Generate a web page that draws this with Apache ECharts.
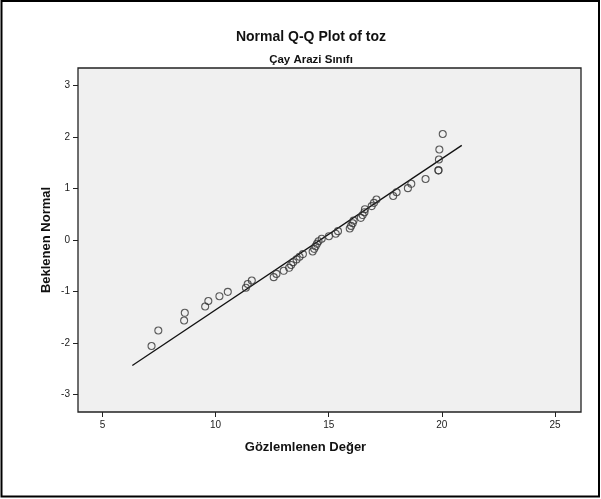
<!DOCTYPE html>
<html>
<head>
<meta charset="utf-8">
<title>Normal Q-Q Plot of toz</title>
<script src="https://cdn.jsdelivr.net/npm/echarts@6/dist/echarts.min.js"></script>
<style>
  html, body { margin: 0; padding: 0; background: #fff; }
  #chart { width: 601px; height: 499px; }
</style>
</head>
<body>
<div id="chart"></div>
<script>
// Observed values (toz) and their expected normal scores
const observed = [
  7.17, 7.47, 8.61, 8.64, 9.54, 9.68, 10.17, 10.54, 11.34, 11.42,
  11.60, 12.57, 12.69, 13.01, 13.25, 13.34, 13.43, 13.58, 13.71, 13.86,
  14.29, 14.36, 14.42, 14.48, 14.55, 14.69, 15.01, 15.31, 15.41, 15.93,
  15.99, 16.06, 16.10, 16.42, 16.50, 16.58, 16.60, 16.90, 17.00, 17.11,
  17.85, 18.00, 18.50, 18.65, 19.28, 19.85, 19.85, 19.87, 19.89, 20.04
];
const expectedNormal = [
  -2.062, -1.760, -1.565, -1.416, -1.293, -1.187, -1.093, -1.008, -0.929, -0.856,
  -0.787, -0.722, -0.659, -0.599, -0.541, -0.485, -0.431, -0.377, -0.325, -0.274,
  -0.223, -0.172, -0.123, -0.074, -0.025, 0.025, 0.074, 0.123, 0.172, 0.223,
  0.274, 0.325, 0.377, 0.431, 0.485, 0.541, 0.599, 0.659, 0.722, 0.787,
  0.856, 0.929, 1.008, 1.093, 1.187, 1.355, 1.355, 1.565, 1.760, 2.062
];

// Reference line end points
const refLineX = [6.32, 20.88];
const refLineY = [-2.44, 1.84];

// Tick labels
const xTicks = [5, 10, 15, 20, 25];
const yTicks = [-3, -2, -1, 0, 1, 2, 3];

const FONT = '"Liberation Sans", Arial, Helvetica, sans-serif';

const points = observed.map((v, i) => [v, expectedNormal[i]]);
const refLine = refLineX.map((v, i) => [v, refLineY[i]]);

const chart = echarts.init(document.getElementById('chart'), null, { renderer: 'canvas' });

chart.setOption({
  animation: false,
  backgroundColor: '#ffffff',
  title: [
    {
      text: 'Normal Q-Q Plot of toz',
      left: 306, top: 25, textAlign: 'center',
      textStyle: { fontFamily: FONT, fontSize: 14, fontWeight: 'bold', color: '#111' }
    },
    {
      text: 'Çay Arazi Sınıfı',
      left: 306, top: 49, textAlign: 'center',
      textStyle: { fontFamily: FONT, fontSize: 11.5, fontWeight: 'bold', color: '#111' }
    }
  ],
  graphic: [
    {
      type: 'rect', silent: true, z: 100,
      shape: { x: 1.5, y: 1, width: 597.5, height: 495.5 },
      style: { fill: 'none', stroke: '#000', lineWidth: 2 }
    }
  ],
  grid: {
    left: 78, right: 20, top: 68, bottom: 87,
    show: true,
    backgroundColor: '#f0f0f0',
    borderColor: '#222',
    borderWidth: 1.3
  },
  xAxis: {
    type: 'value',
    min: 3.92, max: 26.15,
    name: 'Gözlemlenen Değer',
    nameLocation: 'middle',
    nameGap: 29,
    nameTextStyle: { fontFamily: FONT, fontSize: 13, fontWeight: 'bold', color: '#111', padding: [0, 48, 0, 0] },
    axisLine: { show: false, onZero: false },
    axisTick: { show: true, length: 5, customValues: xTicks, lineStyle: { color: '#222', width: 1 } },
    axisLabel: { customValues: xTicks, margin: 8, fontFamily: FONT, fontSize: 10, color: '#222' },
    splitLine: { show: false }
  },
  yAxis: {
    type: 'value',
    min: -3.345, max: 3.345,
    name: 'Beklenen Normal',
    nameLocation: 'middle',
    nameGap: 25,
    nameMoveOverlap: false,
    nameRotate: 90,
    nameTextStyle: { fontFamily: FONT, fontSize: 13, fontWeight: 'bold', color: '#111' },
    axisLine: { show: false, onZero: false },
    axisTick: { show: true, length: 5, customValues: yTicks, lineStyle: { color: '#222', width: 1 } },
    axisLabel: { customValues: yTicks, margin: 8, fontFamily: FONT, fontSize: 10, color: '#222' },
    splitLine: { show: false }
  },
  series: [
    {
      type: 'line',
      data: refLine,
      symbol: 'none',
      lineStyle: { color: '#111', width: 1.3 },
      z: 2
    },
    {
      type: 'scatter',
      data: points,
      symbol: 'circle',
      symbolSize: 7,
      itemStyle: { color: 'rgba(0,0,0,0)', borderColor: '#333', borderWidth: 1.1 },
      z: 3
    }
  ]
});
</script>
</body>
</html>
